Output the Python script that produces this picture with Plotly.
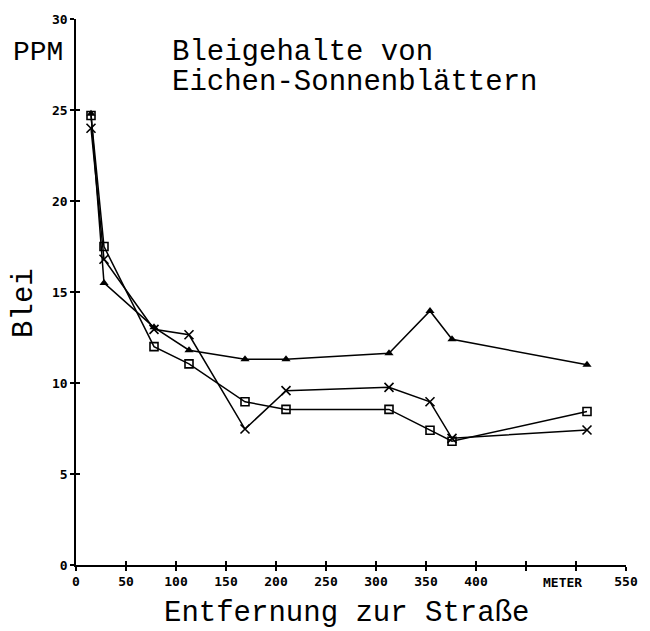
import plotly.graph_objects as go

# distances in metres
dist = [15, 28, 78, 113, 169, 210, 313, 354, 376, 511]
series_square = [24.7, 17.5, 12.0, 11.05, 8.97, 8.55, 8.55, 7.4, 6.8, 8.43]
series_cross = [24.0, 16.8, 12.95, 12.65, 7.47, 9.58, 9.76, 8.97, 6.96, 7.42]
series_triangle = [24.8, 15.5, 13.06, 11.8, 11.3, 11.3, 11.63, 13.96, 12.4, 11.0]

x_ticks = [0, 50, 100, 150, 200, 250, 300, 350, 400, 450, 500, 550]
x_ticktext = ["0", "50", "100", "150", "200", "250", "300", "350", "400", "", "", "550"]
y_ticks = [0, 5, 10, 15, 20, 25, 30]

W, H = 650, 631
L, R, T, B = 76, 14, 19, 66
PW, PH = W - L - R, H - T - B

def px(x):
    return (x - L) / PW

def py(y):
    return (H - B - y) / PH

fig = go.Figure()
line = dict(color="black", width=1.5)
fig.add_trace(go.Scatter(x=dist, y=series_square, mode="lines+markers", line=line,
                         marker=dict(symbol="square-open", size=8, color="black", line=dict(width=1.6, color="black"))))
fig.add_trace(go.Scatter(x=dist, y=series_cross, mode="lines+markers", line=line,
                         marker=dict(symbol="x-thin", size=9, color="black", line=dict(width=1.6, color="black"))))
fig.add_trace(go.Scatter(x=dist, y=series_triangle, mode="lines+markers", line=line,
                         marker=dict(symbol="triangle-up", size=8, color="black")))
fig.add_trace(go.Scatter(x=[], y=[], xaxis="x2", yaxis="y2", showlegend=False))

tickfont = dict(family="DejaVu Sans Mono", size=13, color="black", weight="bold")
mono = "Liberation Mono"

fig.update_layout(
    width=W, height=H,
    margin=dict(l=L, r=R, t=T, b=B),
    paper_bgcolor="white", plot_bgcolor="white",
    showlegend=False,
    xaxis=dict(range=[0, 550], tickvals=x_ticks, ticktext=x_ticktext, ticks="outside", ticklen=4,
               tickwidth=1.5, tickcolor="black", showline=True, linecolor="black", linewidth=1.5,
               showgrid=False, zeroline=False, tickfont=tickfont, fixedrange=True),
    yaxis=dict(range=[0, 30], tickvals=y_ticks, ticks="outside", ticklen=4, tickwidth=1.5,
               tickcolor="black", showline=True, linecolor="black", linewidth=1.5,
               showgrid=False, zeroline=False, tickfont=tickfont, fixedrange=True),
    xaxis2=dict(range=[0, 550], overlaying="x", anchor="y", side="bottom", tickvals=x_ticks,
                ticks="inside", ticklen=4, tickwidth=1.5, tickcolor="black", showticklabels=False,
                showline=False, showgrid=False, zeroline=False),
    yaxis2=dict(range=[0, 30], overlaying="y", anchor="x", side="left", tickvals=y_ticks,
                ticks="inside", ticklen=4, tickwidth=1.5, tickcolor="black", showticklabels=False,
                showline=False, showgrid=False, zeroline=False),
)

def ann(text, x, y, size, xanchor="left", angle=0):
    fig.add_annotation(text=text, x=px(x), y=py(y), xref="paper", yref="paper",
                       xanchor=xanchor, yanchor="middle", showarrow=False, textangle=angle,
                       font=dict(family=mono, size=size, color="black"))

ann("Bleigehalte von", 172, 52, 29)
ann("Eichen-Sonnenblättern", 172, 82, 29)
ann("PPM", 37, 52, 28, xanchor="center")
ann("Blei", 24, 303, 29, xanchor="center", angle=-90)
ann("Entfernung zur Straße", 351, 613, 29, xanchor="center")
fig.add_annotation(text="METER", x=486, y=0, xref="x", yref="paper", yshift=-17, showarrow=False,
                   xanchor="center", yanchor="middle", font=tickfont)

fig.write_html("out.html", config={"displayModeBar": False},
               post_script="document.body.style.margin='0';")
